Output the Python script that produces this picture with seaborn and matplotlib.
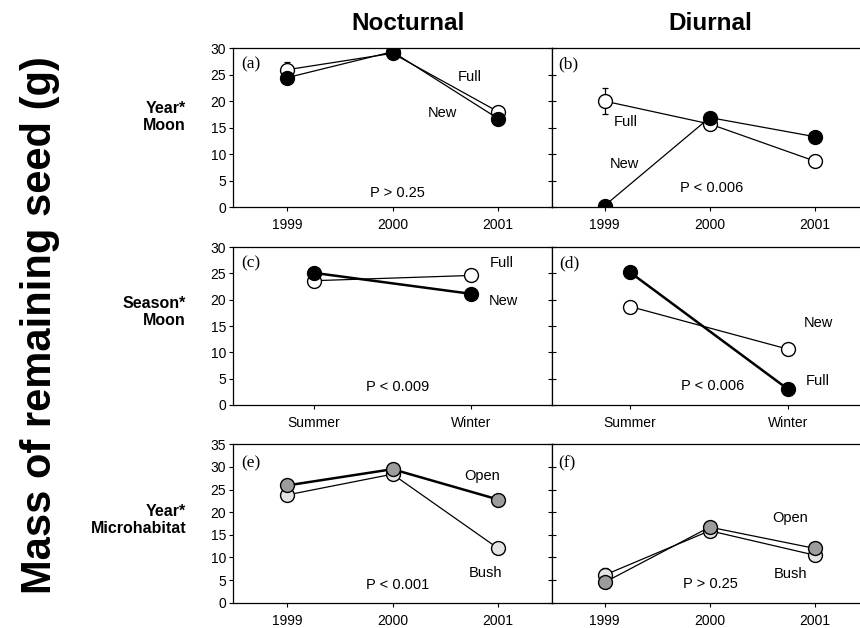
import numpy as np
import matplotlib
matplotlib.use('Agg')
import matplotlib.pyplot as plt
import seaborn as sns

# categories
years = ['1999', '2000', '2001']
seasons = ['Summer', 'Winter']

# (a) nocturnal, year * moon
a_full = [25.9, 29.0, 18.0]
a_full_se = [1.5, 0.4, 0.4]
a_new = [24.4, 29.3, 16.7]
a_new_se = [0.6, 0.4, 0.4]
# (b) diurnal, year * moon
b_full = [20.0, 15.7, 8.7]
b_full_se = [2.5, 0.4, 0.4]
b_new = [0.3, 16.9, 13.3]
b_new_se = [0.3, 0.4, 0.4]
# (c) nocturnal, season * moon
c_full = [23.6, 24.6]
c_full_se = [0.4, 0.4]
c_new = [25.1, 21.1]
c_new_se = [1.0, 0.8]
# (d) diurnal, season * moon
d_full = [25.2, 3.0]
d_full_se = [1.0, 1.0]
d_new = [18.7, 10.6]
d_new_se = [0.3, 0.3]
# (e) nocturnal, year * microhabitat
e_open = [25.9, 29.5, 22.8]
e_open_se = [1.0, 0.6, 0.7]
e_bush = [23.8, 28.4, 12.0]
e_bush_se = [0.5, 0.4, 0.4]
# (f) diurnal, year * microhabitat
f_open = [4.5, 16.7, 12.0]
f_open_se = [1.2, 0.4, 0.4]
f_bush = [6.1, 15.9, 10.5]
f_bush_se = [1.5, 0.4, 0.4]

sns.set_style('ticks')
plt.rcParams['font.family'] = ['Liberation Sans', 'DejaVu Sans']
plt.rcParams['text.color'] = 'black'
plt.rcParams['xtick.color'] = 'black'
plt.rcParams['ytick.color'] = 'black'
plt.rcParams['axes.labelcolor'] = 'black'

BLACK = '#000000'
WHITE = '#ffffff'
GRAY = '#9c9c9c'
LIGHT = '#e4e4e4'


def series(ax, cats, vals, se, face, lw, z):
    ax.errorbar(cats, vals, yerr=se, fmt='none', ecolor='black',
                elinewidth=0.9, capsize=2.5, capthick=0.9, zorder=z)
    sns.lineplot(x=cats, y=vals, ax=ax, color='black', linewidth=lw,
                 marker='o', markersize=10, markerfacecolor=face,
                 markeredgecolor='black', markeredgewidth=1.0, zorder=z + 0.5)


def style(ax, right, ymax, xlim):
    ax.set_xlim(*xlim)
    ax.set_ylim(0, ymax)
    ax.set_yticks(np.arange(0, ymax + 1, 5))
    for s in ax.spines.values():
        s.set_linewidth(0.9)
        s.set_color('black')
    ax.spines['right'].set_visible(not right)
    ax.tick_params(axis='x', direction='out', length=3, width=0.8,
                   labelsize=10, pad=5)
    if right:
        ax.tick_params(axis='y', direction='inout', length=6, width=0.8,
                       labelleft=False)
    else:
        ax.tick_params(axis='y', direction='out', length=3, width=0.8,
                       labelsize=10, pad=2)
    ax.set_xlabel('')
    ax.set_ylabel('')


def note(ax, x, y, s, **kw):
    ax.text(x, y, s, fontsize=10.5, ha='center', va='center', **kw)


def letter(ax, x, y, s):
    ax.text(x, y, s, fontsize=12.5, ha='left', va='center',
            family=['Liberation Serif', 'DejaVu Serif'])


fig = plt.figure(figsize=(8.6, 6.28), dpi=100)

W, H = 860.0, 628.0
lx0, lx1 = 233, 552
rx0, rx1 = 552, 860
rows = [(48, 207.3), (247, 405), (444.3, 602.7)]


def axes_at(x0, x1, y0, y1):
    return fig.add_axes([x0 / W, 1 - y1 / H, (x1 - x0) / W, (y1 - y0) / H])


ax_a = axes_at(lx0, lx1, *rows[0])
ax_b = axes_at(rx0, rx1, *rows[0])
ax_c = axes_at(lx0, lx1, *rows[1])
ax_d = axes_at(rx0, rx1, *rows[1])
ax_e = axes_at(lx0, lx1, *rows[2])
ax_f = axes_at(rx0, rx1, *rows[2])

# (a)
series(ax_a, years, a_full, a_full_se, WHITE, 0.9, 2)
series(ax_a, years, a_new, a_new_se, BLACK, 0.9, 3)
style(ax_a, False, 30, (-0.51, 2.51))
note(ax_a, 1.73, 24.5, 'Full')
note(ax_a, 1.47, 17.7, 'New')
note(ax_a, 1.05, 2.7, 'P > 0.25')
letter(ax_a, -0.43, 27.0, '(a)')

# (b)
series(ax_b, years, b_full, b_full_se, WHITE, 0.9, 2)
series(ax_b, years, b_new, b_new_se, BLACK, 0.9, 3)
style(ax_b, True, 30, (-0.5, 2.43))
note(ax_b, 0.2, 16.1, 'Full')
note(ax_b, 0.19, 8.2, 'New')
note(ax_b, 1.02, 3.6, 'P < 0.006')
letter(ax_b, -0.44, 27.0, '(b)')

# (c)
series(ax_c, seasons, c_full, c_full_se, WHITE, 0.9, 2)
series(ax_c, seasons, c_new, c_new_se, BLACK, 1.8, 3)
style(ax_c, False, 30, (-0.51, 1.51))
note(ax_c, 1.19, 26.9, 'Full')
note(ax_c, 1.2, 19.8, 'New')
note(ax_c, 0.53, 3.5, 'P < 0.009')
letter(ax_c, -0.46, 26.9, '(c)')

# (d)
series(ax_d, seasons, d_new, d_new_se, WHITE, 0.9, 2)
series(ax_d, seasons, d_full, d_full_se, BLACK, 1.8, 3)
style(ax_d, True, 30, (-0.494, 1.456))
note(ax_d, 1.19, 15.5, 'New')
note(ax_d, 1.19, 4.5, 'Full')
note(ax_d, 0.52, 3.6, 'P < 0.006')
letter(ax_d, -0.45, 26.9, '(d)')

# (e)
series(ax_e, years, e_bush, e_bush_se, LIGHT, 0.9, 2)
series(ax_e, years, e_open, e_open_se, GRAY, 1.8, 3)
style(ax_e, False, 35, (-0.51, 2.51))
note(ax_e, 1.85, 28.0, 'Open')
note(ax_e, 1.88, 6.6, 'Bush')
note(ax_e, 1.05, 3.9, 'P < 0.001')
letter(ax_e, -0.43, 30.8, '(e)')

# (f)
series(ax_f, years, f_bush, f_bush_se, LIGHT, 0.9, 2)
series(ax_f, years, f_open, f_open_se, GRAY, 0.9, 3)
style(ax_f, True, 35, (-0.5, 2.43))
note(ax_f, 1.77, 18.7, 'Open')
note(ax_f, 1.77, 6.3, 'Bush')
note(ax_f, 1.01, 4.1, 'P > 0.25')
letter(ax_f, -0.44, 30.8, '(f)')

# column titles
fig.text(408 / W, 1 - 23 / H, 'Nocturnal', ha='center', va='center',
         fontsize=17.5, weight='bold')
fig.text(710 / W, 1 - 23 / H, 'Diurnal', ha='center', va='center',
         fontsize=17.5, weight='bold')

# row labels
fig.text(186 / W, 1 - 117 / H, 'Year*\nMoon', ha='right', va='center',
         fontsize=11.5, weight='bold')
fig.text(186 / W, 1 - 312 / H, 'Season*\nMoon', ha='right', va='center',
         fontsize=11.5, weight='bold')
fig.text(186 / W, 1 - 520 / H, 'Year*\nMicrohabitat', ha='right', va='center',
         fontsize=11.5, weight='bold')

# shared y label
fig.text(40 / W, 1 - 325 / H, 'Mass of remaining seed (g)', rotation=90,
         ha='center', va='center', fontsize=30, weight='bold')

fig.savefig('out.png', dpi=100)
